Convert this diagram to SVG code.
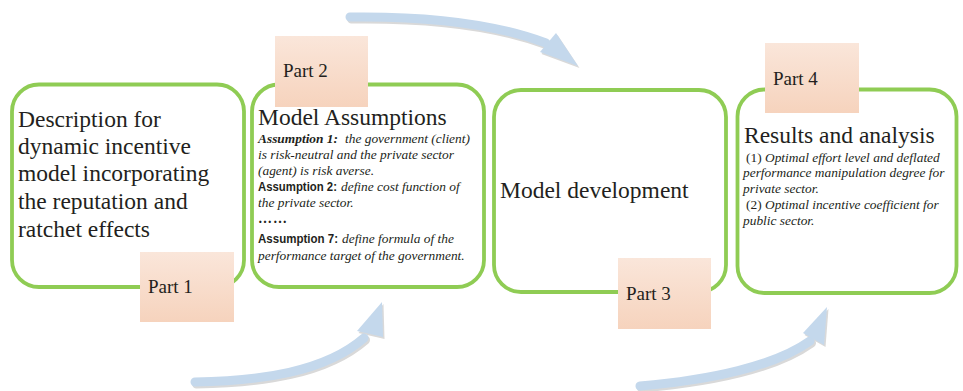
<svg xmlns="http://www.w3.org/2000/svg" width="963" height="391" viewBox="0 0 963 391">
<defs>
<linearGradient id="pg" x1="0" y1="0" x2="0" y2="1">
<stop offset="0" stop-color="#fae6da"/>
<stop offset="1" stop-color="#f6d3bd"/>
</linearGradient>
</defs>
<style>
.box{fill:#ffffff;stroke:#8fcc54;stroke-width:3.8}
.part{fill:url(#pg)}
.t{font-family:'Liberation Serif','Times New Roman','DejaVu Serif',serif;fill:#231f20}
.big{font-size:23.5px}
.lbl{font-size:19px}
.sm{font-size:13.4px;font-style:italic}
.bi{font-size:13.4px;font-style:italic;font-weight:bold}
.bs{font-family:'Liberation Sans',Arial,sans-serif;font-size:13px;font-weight:bold;fill:#231f20}
.band{fill:none;stroke:#c4d8ec;stroke-width:9;stroke-linecap:round}
.bandsh{fill:none;stroke:#d9d9d9;stroke-width:9;stroke-linecap:round}
.head{fill:#c4d8ec}
.headsh{fill:#d9d9d9}
</style>
<rect width="963" height="391" fill="#ffffff"/>
<g id="connectors">
<g transform="translate(1.5,2)">
<path class="bandsh" d="M350,17 C420,16 490,22 546,43"/>
<polygon class="headsh" points="556,33 578,66 540,52"/>
<path class="bandsh" d="M195,382 C260,381 325,372 364,338"/>
<polygon class="headsh" points="382,302 357,331 383,337"/>
<path class="bandsh" d="M640,386 C710,380 775,366 810,341"/>
<polygon class="headsh" points="827,307 803,333 824,345"/>
</g>
<path class="band" d="M350,17 C420,16 490,22 546,43"/>
<polygon class="head" points="556,33 578,66 540,52"/>
<path class="band" d="M195,382 C260,381 325,372 364,338"/>
<polygon class="head" points="382,302 357,331 383,337"/>
<path class="band" d="M640,386 C710,380 775,366 810,341"/>
<polygon class="head" points="827,307 803,333 824,345"/>
</g>
<g id="node1">
<rect class="box" x="12" y="84.5" width="232" height="202.5" rx="27"/>
<text class="t big" x="18" y="127">Description for</text>
<text class="t big" x="18" y="154">dynamic incentive</text>
<text class="t big" x="18" y="181">model incorporating</text>
<text class="t big" x="18" y="209">the reputation and</text>
<text class="t big" x="18" y="237">ratchet effects</text>
</g>
<g id="part1">
<rect class="part" x="140" y="252" width="94" height="70"/>
<text class="t lbl" x="148" y="293">Part 1</text>
</g>
<g id="node2">
<rect class="box" x="252" y="84.5" width="232" height="202.5" rx="27"/>
<text class="t big" x="258" y="125">Model Assumptions</text>
<text class="t bi" x="258" y="143">Assumption 1:</text>
<text class="t sm" x="345" y="143">the government (client)</text>
<text class="t sm" x="258" y="159">is risk-neutral and the private sector</text>
<text class="t sm" x="258" y="175">(agent) is risk averse.</text>
<text class="bs" x="258" y="191" textLength="79" lengthAdjust="spacingAndGlyphs">Assumption 2:</text>
<text class="t sm" x="341" y="191">define cost function of</text>
<text class="t sm" x="258" y="207">the private sector.</text>
<text class="t" font-size="14" font-weight="bold" x="258" y="223" textLength="29" lengthAdjust="spacing">……</text>
<text class="bs" x="258" y="243" textLength="80" lengthAdjust="spacingAndGlyphs">Assumption 7:</text>
<text class="t sm" x="342" y="243">define formula of the</text>
<text class="t sm" x="258" y="260">performance target of the government.</text>
</g>
<g id="part2">
<rect class="part" x="275" y="36" width="93" height="71"/>
<text class="t lbl" x="283" y="77">Part 2</text>
</g>
<g id="node3">
<rect class="box" x="494" y="90" width="232" height="202" rx="27"/>
<text class="t big" x="500" y="198">Model development</text>
</g>
<g id="part3">
<rect class="part" x="618" y="258" width="93" height="71"/>
<text class="t lbl" x="626" y="300">Part 3</text>
</g>
<g id="node4">
<rect class="box" x="737.5" y="89.5" width="219" height="203.5" rx="27"/>
<text class="t big" x="744" y="143">Results and analysis</text>
<text class="t" font-size="13.4" x="746" y="162">(1) <tspan font-style="italic">Optimal effort level and deflated</tspan></text>
<text class="t sm" x="743" y="177">performance manipulation degree for</text>
<text class="t sm" x="743" y="193">private sector.</text>
<text class="t" font-size="13.4" x="746" y="209">(2) <tspan font-style="italic">Optimal incentive coefficient for</tspan></text>
<text class="t sm" x="743" y="225">public sector.</text>
</g>
<g id="part4">
<rect class="part" x="765" y="43" width="94" height="70"/>
<text class="t lbl" x="773" y="85">Part 4</text>
</g>
</svg>
